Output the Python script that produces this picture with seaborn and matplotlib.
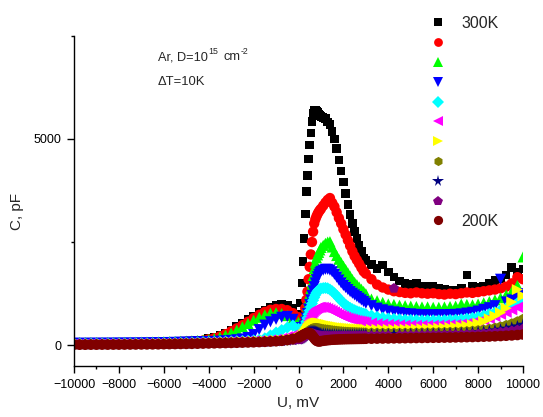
import matplotlib
matplotlib.use("Agg")
import matplotlib.pyplot as plt
from matplotlib.lines import Line2D
from matplotlib.ticker import MultipleLocator
import pandas as pd
import seaborn as sns

# Bias voltage sweep, mV
U = [
    -10000, -9750, -9500, -9250, -9000, -8750, -8500, -8250, -8000, -7750,
    -7500, -7250, -7000, -6750, -6500, -6250, -6000, -5750, -5500, -5250,
    -5000, -4750, -4500, -4250, -4000, -3750, -3500, -3250, -3000, -2750,
    -2500, -2250, -2000, -1750, -1500, -1250, -1000, -750, -500, -250,
    0, 50, 100, 150, 200, 250, 300, 350, 400, 450,
    500, 550, 600, 650, 700, 750, 800, 850, 900, 950,
    1000, 1100, 1200, 1300, 1400, 1500, 1600, 1700, 1800, 1900,
    2000, 2100, 2200, 2300, 2400, 2500, 2600, 2700, 2800, 2900,
    3000, 3250, 3500, 3750, 4000, 4250, 4500, 4750, 5000, 5250,
    5500, 5750, 6000, 6250, 6500, 6750, 7000, 7250, 7500, 7750,
    8000, 8250, 8500, 8750, 9000, 9250, 9500, 9750, 10000,
]

# Capacitance, pF, one list per temperature
C_300K = [
    50, 50, 51, 52, 53, 54, 55, 56, 58, 59, 61, 63, 65, 67, 70, 73, 76, 80, 85, 91, 98, 107, 118, 133,
    160, 190, 240, 300, 370, 450, 530, 620, 710, 790, 860, 930, 980, 1000, 970, 900,
    760, 520, 1030, 1510, 2030, 2580, 3180, 3720, 4110, 4510, 4850, 5140, 5420, 5620, 5700, 5690, 5660, 5630, 5600, 5570,
    5535, 5510, 5490, 5410, 5340, 5175, 4990, 4760, 4490, 4215, 3950, 3680, 3405, 3170, 2950, 2755, 2590, 2430, 2265, 2100,
    2060, 1960, 1860, 1950, 1780, 1650, 1560, 1500, 1470, 1500, 1430, 1420, 1440, 1380, 1360, 1340, 1330, 1380, 1700, 1420,
    1400, 1440, 1500, 1570, 1620, 1700, 1880, 1760, 1850,
]
C_290K = [
    45, 45, 46, 47, 48, 49, 50, 51, 52, 53, 55, 57, 59, 61, 63, 66, 69, 72, 76, 81, 87, 94, 103, 116,
    145, 172, 215, 270, 340, 410, 490, 570, 660, 740, 810, 860, 880, 880, 850, 780,
    680, 460, 400, 460, 560, 680, 900, 1100, 1300, 1600, 1900, 2200, 2500, 2750, 2950, 3050, 3120, 3180, 3230, 3270,
    3305, 3380, 3455, 3520, 3565, 3450, 3357, 3220, 3080, 2950, 2810, 2680, 2545, 2410, 2275, 2160, 2065, 1975, 1880, 1790,
    1735, 1600, 1470, 1400, 1350, 1310, 1290, 1270, 1260, 1280, 1260, 1250, 1260, 1240, 1230, 1250, 1240, 1260, 1280, 1270,
    1290, 1310, 1330, 1350, 1380, 1420, 1500, 1650, 1600,
]
C_280K = [
    70, 70, 70, 71, 71, 72, 72, 73, 74, 75, 76, 77, 79, 81, 83, 85, 88, 91, 95, 99, 104, 110, 117, 126,
    140, 165, 200, 245, 300, 370, 450, 530, 610, 680, 740, 780, 790, 770, 720, 640,
    560, 420, 380, 400, 470, 560, 680, 820, 960, 1100, 1240, 1380, 1510, 1690, 1860, 2000, 2120, 2190, 2250, 2310,
    2370, 2420, 2470, 2500, 2510, 2380, 2270, 2174, 2084, 2000, 1918, 1837, 1756, 1676, 1595, 1525, 1470, 1415, 1360, 1306,
    1250, 1120, 1080, 1040, 1000, 990, 970, 960, 950, 940, 930, 930, 920, 920, 930, 940, 950, 1000, 990, 980,
    1000, 1030, 1060, 1100, 1150, 1220, 1300, 1450, 2140,
]
C_270K = [
    50, 50, 50, 51, 51, 52, 52, 53, 54, 55, 56, 57, 58, 60, 62, 64, 66, 69, 72, 75, 79, 83, 87, 90,
    92, 95, 100, 110, 120, 135, 155, 190, 260, 380, 490, 570, 630, 680, 700, 630,
    430, 350, 330, 350, 400, 470, 560, 660, 770, 880, 990, 1100, 1210, 1320, 1420, 1510, 1590, 1660, 1720, 1760,
    1790, 1820, 1840, 1840, 1820, 1780, 1720, 1650, 1580, 1510, 1450, 1400, 1350, 1300, 1260, 1220, 1180, 1140, 1100, 1060,
    1020, 960, 900, 860, 830, 810, 790, 770, 760, 750, 740, 740, 740, 740, 740, 745, 750, 760, 780, 800,
    830, 870, 910, 960, 1600, 1050, 1100, 1150, 1250,
]
C_260K = [
    40, 40, 41, 41, 42, 42, 43, 43, 44, 45, 46, 47, 48, 49, 50, 52, 54, 56, 58, 60, 63, 66, 70, 75,
    80, 84, 88, 92, 96, 100, 105, 112, 120, 135, 170, 240, 310, 370, 430, 480,
    400, 320, 300, 320, 360, 420, 490, 570, 660, 750, 840, 930, 1010, 1090, 1160, 1220, 1270, 1310, 1340, 1360,
    1375, 1385, 1390, 1380, 1350, 1310, 1260, 1200, 1140, 1080, 1030, 980, 940, 905, 875, 850, 825, 805, 785, 770,
    755, 720, 690, 670, 650, 640, 630, 620, 615, 610, 605, 605, 605, 605, 610, 615, 620, 630, 645, 665,
    690, 720, 760, 800, 850, 900, 960, 1020, 1100,
]
C_250K = [
    35, 35, 35, 36, 36, 37, 37, 38, 38, 39, 40, 41, 42, 43, 44, 45, 47, 49, 51, 53, 55, 58, 61, 65,
    70, 74, 78, 82, 86, 90, 95, 100, 106, 112, 120, 130, 145, 170, 210, 250,
    260, 240, 235, 255, 290, 340, 400, 460, 530, 600, 660, 720, 770, 810, 845, 870, 890, 905, 915, 920,
    920, 920, 910, 890, 865, 840, 810, 780, 750, 725, 700, 680, 660, 645, 630, 615, 600, 590, 580, 570,
    560, 540, 525, 515, 505, 500, 495, 490, 485, 485, 485, 485, 485, 490, 495, 500, 505, 515, 530, 550,
    575, 610, 650, 700, 750, 800, 860, 920, 980,
]
C_240K = [
    30, 30, 30, 31, 31, 32, 32, 33, 33, 34, 35, 36, 37, 38, 39, 40, 42, 44, 46, 48, 50, 52, 55, 58,
    62, 66, 70, 74, 78, 82, 86, 90, 95, 100, 106, 112, 118, 126, 135, 150,
    170, 170, 180, 200, 230, 265, 305, 345, 385, 420, 455, 480, 500, 515, 525, 535, 540, 540, 540, 535,
    530, 520, 510, 495, 480, 470, 460, 450, 440, 430, 425, 420, 415, 410, 405, 400, 400, 395, 395, 390,
    390, 385, 385, 385, 385, 385, 385, 390, 390, 395, 400, 405, 410, 415, 420, 430, 440, 455, 470, 495,
    530, 580, 640, 710, 790, 900, 1050, 1350, 1200,
]
C_230K = [
    25, 25, 25, 26, 26, 27, 27, 28, 28, 29, 30, 31, 32, 33, 34, 35, 37, 39, 41, 43, 45, 47, 50, 53,
    56, 59, 62, 65, 68, 71, 74, 77, 81, 85, 90, 95, 100, 108, 118, 130,
    150, 160, 170, 185, 205, 230, 260, 290, 320, 345, 365, 385, 400, 410, 415, 418, 418, 415, 410, 405,
    400, 392, 385, 378, 370, 362, 355, 348, 342, 337, 332, 328, 325, 322, 320, 318, 316, 314, 312, 310,
    308, 305, 303, 302, 302, 302, 303, 304, 305, 307, 309, 311, 314, 317, 320, 324, 328, 334, 342, 352,
    365, 380, 400, 425, 455, 490, 530, 580, 640,
]
C_220K = [
    20, 20, 20, 21, 21, 22, 22, 23, 23, 24, 25, 26, 27, 28, 29, 30, 32, 34, 36, 38, 40, 42, 45, 48,
    51, 54, 57, 60, 63, 66, 69, 72, 76, 80, 85, 90, 96, 104, 114, 126,
    140, 150, 160, 175, 195, 220, 245, 270, 295, 315, 330, 340, 345, 345, 340, 332, 322, 312, 302, 295,
    290, 282, 276, 272, 268, 265, 263, 261, 260, 259, 258, 258, 258, 258, 258, 258, 259, 259, 260, 260,
    261, 262, 263, 264, 265, 266, 267, 268, 270, 272, 274, 276, 278, 280, 283, 286, 290, 295, 300, 308,
    318, 330, 345, 362, 382, 405, 430, 460, 500,
]
C_210K = [
    18, 18, 18, 19, 19, 20, 20, 21, 21, 22, 23, 24, 25, 26, 27, 28, 30, 32, 34, 36, 38, 40, 43, 46,
    49, 52, 55, 58, 61, 64, 67, 70, 74, 78, 83, 88, 94, 102, 112, 124,
    135, 145, 155, 170, 190, 210, 232, 252, 270, 283, 290, 292, 288, 280, 270, 260, 250, 242, 236, 232,
    230, 228, 226, 225, 224, 224, 224, 224, 224, 225, 225, 225, 225, 226, 226, 226, 227, 227, 228, 228,
    229, 230, 231, 232, 234, 1380, 236, 237, 238, 239, 240, 242, 244, 246, 248, 250, 253, 256, 260, 265,
    272, 280, 290, 302, 316, 332, 350, 372, 400,
]
C_200K = [
    15, 15, 15, 16, 16, 17, 17, 18, 18, 19, 20, 21, 22, 23, 24, 25, 27, 29, 31, 33, 35, 37, 40, 43,
    46, 49, 52, 55, 58, 62, 66, 70, 74, 79, 85, 92, 100, 110, 130, 160,
    190, 205, 220, 235, 250, 265, 280, 292, 300, 302, 295, 275, 245, 210, 175, 140, 115, 100, 95, 98,
    102, 110, 118, 125, 130, 135, 138, 141, 144, 146, 148, 150, 151, 152, 153, 154, 155, 156, 157, 158,
    159, 161, 163, 165, 167, 169, 171, 173, 175, 177, 179, 181, 183, 185, 187, 189, 192, 195, 198, 201,
    205, 209, 214, 219, 225, 232, 240, 250, 262,
]

TEMPS = ["300K", "290K", "280K", "270K", "260K", "250K", "240K", "230K", "220K", "210K", "200K"]
CURVES = [C_300K, C_290K, C_280K, C_270K, C_260K, C_250K, C_240K, C_230K, C_220K, C_210K, C_200K]
COLORS = ["#000000", "#FF0000", "#00FF00", "#0000FF", "#00FFFF", "#FF00FF",
          "#FFFF00", "#808000", "#000080", "#800080", "#800000"]
MARKERS = ["s", "o", "^", "v", "D", "<", ">", "h", "*", "p", "o"]
SIZES = [38, 56, 64, 64, 38, 64, 64, 56, 84, 60, 58]
LEGEND_SIZES = [26, 40, 56, 56, 32, 56, 56, 44, 70, 48, 44]

frames = []
for t, c in zip(TEMPS, CURVES):
    assert len(c) == len(U)
    frames.append(pd.DataFrame({"U": U, "C": c, "T": t}))
df = pd.concat(frames, ignore_index=True)

sns.set_style("ticks")
plt.rcParams["font.family"] = ["Liberation Sans", "DejaVu Sans"]

W, H = 543, 417
fig = plt.figure(figsize=(W / 100, H / 100), dpi=100)
ax = fig.add_axes([74 / W, 1 - 366 / H, 449 / W, 330.5 / H])

for t, col, mk, sz in zip(TEMPS, COLORS, MARKERS, SIZES):
    sub = df[df["T"] == t]
    sns.scatterplot(data=sub, x="U", y="C", color=col, marker=mk, s=sz,
                    linewidth=0, edgecolor="none", legend=False, ax=ax, zorder=2)

ax.set_xlim(-10000, 10000)
ax.set_ylim(-500, 7500)
ax.xaxis.set_major_locator(MultipleLocator(2000))
ax.xaxis.set_minor_locator(MultipleLocator(1000))
ax.yaxis.set_major_locator(MultipleLocator(5000))
ax.yaxis.set_minor_locator(MultipleLocator(2500))
ax.tick_params(axis="both", which="major", direction="out", length=5, width=1,
               labelsize=9, pad=4, color="black", labelcolor="black")
ax.tick_params(axis="both", which="minor", direction="out", length=2.5, width=1,
               color="black")
for side in ("top", "right"):
    ax.spines[side].set_visible(False)
for side in ("left", "bottom"):
    ax.spines[side].set_linewidth(1.0)
    ax.spines[side].set_color("black")
ax.set_xlabel("")
ax.set_ylabel("")

fig.text(298.5 / W, 1 - 407 / H, "U, mV", ha="center", va="baseline", fontsize=11)
fig.text(17 / W, 1 - 212 / H, "C, pF", ha="center", va="center", rotation=90, fontsize=11)

# sample description: superscripts placed right after the measured run of text
renderer = fig.canvas.get_renderer()


def run(pieces, x, y):
    for s, size, rise, gap in pieces:
        x += gap
        t = fig.text(x / W, 1 - (y - rise) / H, s, ha="left", va="baseline", fontsize=size)
        bb = t.get_window_extent(renderer=renderer)
        x += bb.width


run([("Ar, D=10", 9.2, 0, 0), ("15", 6.3, 6, 0.5), ("cm", 9.2, 0, 5), ("-2", 6.3, 6, 0.3)], 158, 60)
run([("\u0394T=10K", 9.4, 0, 0)], 158, 85)

handles = [Line2D([], [], linestyle="none", marker=mk, color=col, markeredgewidth=0,
                  markersize=sz ** 0.5)
           for col, mk, sz in zip(COLORS, MARKERS, LEGEND_SIZES)]
labels = [TEMPS[0]] + [""] * (len(TEMPS) - 2) + [TEMPS[-1]]
fig.legend(handles, labels, loc="upper left", bbox_to_anchor=(430 / W, 1 - 16 / H),
           frameon=False, fontsize=11.5, handlelength=1.0, handletextpad=0.95,
           labelspacing=0.30, borderpad=0, borderaxespad=0)

fig.savefig("out.png", dpi=100)
